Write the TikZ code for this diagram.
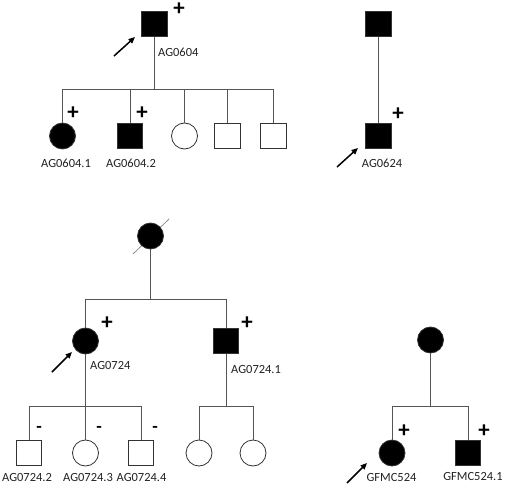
\documentclass[tikz,border=0pt]{standalone}
\usepackage{fontspec}
\setmainfont{Carlito}
\usetikzlibrary{arrows.meta}
\definecolor{lin}{HTML}{555555}
\definecolor{txt}{HTML}{222222}
\begin{document}
\begin{tikzpicture}[x=1bp,y=-1bp,
  sq/.style={draw=black!80,line width=0.8bp,minimum size=25.5bp,inner sep=0pt,rectangle},
  ci/.style={draw=black!80,line width=0.8bp,minimum size=26bp,inner sep=0pt,circle},
  aff/.style={fill=black},
  lbl/.style={font=\fontsize{12.5}{14}\selectfont,text=txt,inner sep=0pt},
  sgn/.style={font=\fontsize{23}{23}\selectfont\bfseries,inner sep=0pt,text height=0.55em,text depth=0pt},
  msgn/.style={font=\fontsize{18}{18}\selectfont\bfseries,inner sep=0pt},
  conn/.style={draw=lin,line width=0.9bp},
  proband/.style={line width=1.5bp,-{Triangle[length=6.5bp,width=5.5bp]}}]
\useasboundingbox (0,0) rectangle (512,484);
% ---------- Pedigree 1 ----------
\node[sq,aff] (p1) at (154.5,24) {};
\coordinate (s1) at (154.5,89);
\node[ci,aff] (c11) at (62.5,136) {};
\node[sq,aff] (c12) at (130,136) {};
\node[ci] (c13) at (184.5,136) {};
\node[sq] (c14) at (227.5,136) {};
\node[sq] (c15) at (273.5,136) {};
\draw[conn] (p1) -- (s1);
\foreach \c in {c11,c12,c13,c14,c15} \draw[conn] (s1) -| (\c.north);
\node[sgn] (pl1) at (179,13) {+};
\node[sgn] (pl11) at (73,117) {+};
\node[sgn] (pl12) at (142,117) {+};
\coordinate (a1s) at (114,56); \coordinate (a1e) at (135,37);
\draw[proband] (a1s) -- (a1e);
\node[lbl,anchor=west] (l1) at (158,52) {AG0604};
\node[lbl] (l11) at (66,163) {AG0604.1};
\node[lbl] (l12) at (131,163) {AG0604.2};
% ---------- Pedigree 2 ----------
\node[sq,aff] (p2) at (378.5,24) {};
\node[sq,aff] (c21) at (378.5,136) {};
\draw[conn] (p2) -- (c21);
\node[sgn] (pl21) at (398,118) {+};
\coordinate (a2s) at (337,167); \coordinate (a2e) at (358,148);
\draw[proband] (a2s) -- (a2e);
\node[lbl] (l21) at (382,163) {AG0624};
% ---------- Pedigree 3 ----------
\coordinate (d1) at (133,254); \coordinate (d2) at (169,219);
\draw[black!45,line width=0.8bp] (d1) -- (d2);
\node[ci,aff] (p3) at (150.5,236) {};
\coordinate (s3) at (150.5,299);
\node[ci,aff] (c31) at (85.5,341) {};
\node[sq,aff] (c32) at (226,341) {};
\draw[conn] (p3) -- (s3);
\draw[conn] (s3) -| (c31.north);
\draw[conn] (s3) -| (c32.north);
\node[sgn] (pl31) at (107,327) {+};
\node[sgn] (pl32) at (247,327) {+};
\coordinate (a3s) at (52,372); \coordinate (a3e) at (72,352);
\draw[proband] (a3s) -- (a3e);
\node[lbl,anchor=west] (l31) at (90,365) {AG0724};
\node[lbl,anchor=west] (l32) at (231,370) {AG0724.1};
\coordinate (s31) at (85.5,406);
\node[sq] (g1) at (29,453) {};
\node[ci] (g2) at (85.5,453) {};
\node[sq] (g3) at (141,453) {};
\draw[conn] (c31) -- (s31);
\foreach \c in {g1,g2,g3} \draw[conn] (s31) -| (\c.north);
\node[msgn] (m1) at (39,429) {-};
\node[msgn] (m2) at (99,429) {-};
\node[msgn] (m3) at (155,429) {-};
\node[lbl] (lg1) at (27,478) {AG0724.2};
\node[lbl] (lg2) at (88,478) {AG0724.3};
\node[lbl] (lg3) at (141.5,478) {AG0724.4};
\coordinate (s32) at (226,406);
\node[ci] (h1) at (199,453) {};
\node[ci] (h2) at (253,453) {};
\draw[conn] (c32) -- (s32);
\draw[conn] (s32) -| (h1.north);
\draw[conn] (s32) -| (h2.north);
% ---------- Pedigree 4 ----------
\node[ci,aff] (p4) at (430.5,340) {};
\coordinate (s4) at (430.5,406);
\node[ci,aff] (c41) at (392,453) {};
\node[sq,aff] (c42) at (468,453) {};
\draw[conn] (p4) -- (s4);
\draw[conn] (s4) -| (c41.north);
\draw[conn] (s4) -| (c42.north);
\node[sgn] (pl41) at (404,435) {+};
\node[sgn] (pl42) at (484,435) {+};
\coordinate (a4s) at (347,483); \coordinate (a4e) at (367,463);
\draw[proband] (a4s) -- (a4e);
\node[lbl] (l41) at (391.5,477) {GFMC524};
\node[lbl] (l42) at (473,477) {GFMC524.1};
\end{tikzpicture}
\end{document}
